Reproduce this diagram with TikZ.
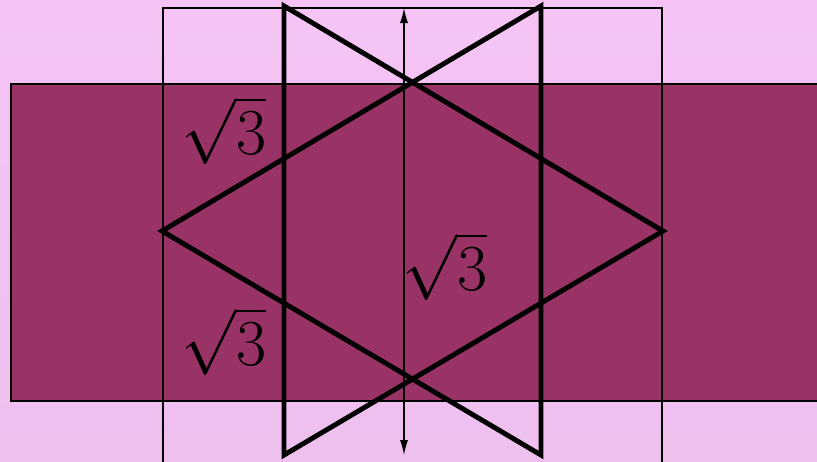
\documentclass[tikz,border=0pt]{standalone}
\usepackage{tikz}
\usetikzlibrary{positioning,arrows.meta}
\definecolor{bgpink}{HTML}{F5C4F5}
\definecolor{bgpinklow}{HTML}{EEC0EE}
\definecolor{maroon}{HTML}{993366}
\newcommand{\rootthree}{\scalebox{1.5}{$\sqrt{3}$}}

\begin{document}
\begin{tikzpicture}[
  x=0.02cm, y=-0.02cm,
  band/.style={fill=maroon, draw=black, line width=0.8pt},
  frame/.style={draw=black, line width=0.7pt},
  tri/.style={draw=black, line width=2.8pt, line join=miter},
  dim/.style={{Latex[length=3mm,width=1.6mm]}-{Latex[length=3mm,width=1.6mm]}, draw=black, line width=0.7pt},
  lbl/.style={font=\Huge, inner sep=0pt}
]
\shade[top color=bgpink, bottom color=bgpinklow] (0,0) rectangle (817,461);
\useasboundingbox (0,0) rectangle (817,461);

\draw[band] (11,84) rectangle (830,401);
\draw[frame] (163,8) rectangle (662,470);

% triangle vertices
\coordinate (lt) at (284,6);
\coordinate (lb) at (284,455);
\coordinate (rt) at (541,6);
\coordinate (rb) at (541,455);
\coordinate (la) at (162,231);
\coordinate (ra) at (663,231);

\draw[tri] (la) -- (rt) -- (rb) -- cycle;
\draw[tri] (ra) -- (lt) -- (lb) -- cycle;

\coordinate (dtop) at (404,8);
\coordinate (dbot) at (404,455);
\draw[dim] (dtop) -- (dbot);

\node[lbl] (s1) at (224,130) {\rootthree};
\node[lbl] (s2) at (224,341) {\rootthree};
\node[lbl] (s3) at (445,266) {\rootthree};
\end{tikzpicture}
\end{document}
